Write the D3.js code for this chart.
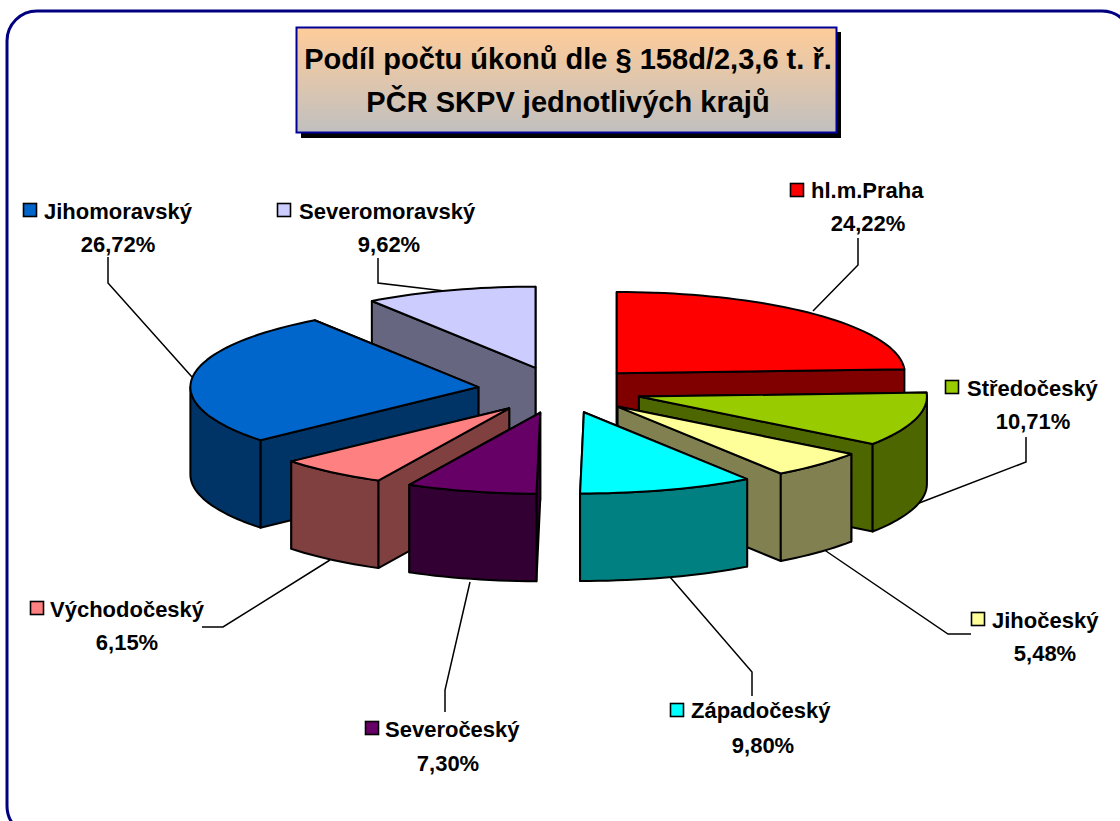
<!DOCTYPE html>
<html><head><meta charset="utf-8">
<style>html,body{margin:0;padding:0;background:#fff;overflow:hidden}
text{font-family:"Liberation Sans",Arial,sans-serif;font-weight:bold;fill:#000}</style>
<script src="https://cdn.jsdelivr.net/npm/d3@7/dist/d3.min.js"></script>
</head><body><svg id="c" width="1120" height="821"></svg>
<script>
const categories = ["hl.m.Praha","Středočeský","Jihočeský","Západočeský","Severočeský","Východočeský","Jihomoravský","Severomoravský"];
const shares = [24.22,10.71,5.48,9.80,7.30,6.15,26.72,9.62];
const topColors = ["#FF0000","#99CC00","#FFFF99","#00FFFF","#660066","#FF8080","#0066CC","#CCCCFF"];
const wallColors = ["#800000","#4D6600","#808050","#008080","#330033","#804040","#003366","#666680"];
const titleLines = ["Podíl počtu úkonů dle § 158d/2,3,6 t. ř.","PČR SKPV jednotlivých krajů"];

// layout, separate from the data
const keyPos = [[790,183],[945,380],[971,612],[670,703],[365,721],[30,601],[23,203],[277,203]];
const namePos = [[811,198],[967,396],[992,628],[691,718],[385,737],[50,617],[44,219],[299,219]];
const pctPos = [[868,231],[1033,429],[1045,661],[763,753],[448,771],[127,650],[118,252],[389,252]];
const leaders = [
 [[813,311],[858,265],[858,238]],
 [[914,505],[1026,462],[1026,437]],
 [[823,549],[948,634],[971,634]],
 [[670,577],[752,672],[752,696]],
 [[470,582],[445,690],[445,712]],
 [[330,560],[223,627],[202,627]],
 [[192,377],[108,283],[108,257]],
 [[445,291],[378,283],[378,258]]
];

const svg = d3.select("#c");
const defs = svg.append("defs");
const grad = defs.append("linearGradient").attr("id","tg").attr("x1",0).attr("y1",0).attr("x2",0).attr("y2",1);
grad.append("stop").attr("offset",0).attr("stop-color","#FFCC99");
grad.append("stop").attr("offset",1).attr("stop-color","#C0C0C0");

svg.append("rect").attr("x",7).attr("y",11).attr("width",1125).attr("height",825).attr("rx",30).attr("ry",30)
  .attr("fill","#fff").attr("stroke","#000080").attr("stroke-width",3);

// title
svg.append("rect").attr("x",301).attr("y",32).attr("width",540).attr("height",106).attr("fill","#000");
svg.append("rect").attr("x",296.5).attr("y",27.5).attr("width",540).attr("height",105)
  .attr("fill","url(#tg)").attr("stroke","#000099").attr("stroke-width",2);
svg.selectAll("text.t").data(titleLines).join("text").attr("class","t")
  .attr("transform",(d,i)=>`translate(568,${[69,112][i]}) scale(0.968,1)`)
  .attr("text-anchor","middle").attr("font-size",30).text(d=>d);

// pie projected on a tilted plane
const R = 288, tilt = 0.282, depth = 87.5, explode = 0.2857;
const sx = d3.scaleLinear().domain([-1,1]).range([560-R,560+R]);
const sy = d3.scaleLinear().domain([-1,1]).range([390+R*tilt,390-R*tilt]);
const arcs = d3.pie().sort(null).value(d=>d)(shares);
const line = d3.line().x(d=>d[0]).y(d=>d[1]);
const geo = arcs.map((a,i)=>{
  const mid=(a.startAngle+a.endAngle)/2, ex=explode*Math.sin(mid), ey=explode*Math.cos(mid);
  const P=(t)=>[sx(ex+Math.sin(t)),sy(ey+Math.cos(t))];
  const apex=[sx(ex),sy(ey)];
  return {i,mid,apex,P,a};
});
const down=p=>[p[0],p[1]+depth];
const sampled=(a,b)=>d3.range(0,1.0001,1/Math.max(2,Math.ceil((b-a)*30))).map(f=>a+(b-a)*f);
const order=geo.slice().sort((p,q)=>Math.cos(q.mid)-Math.cos(p.mid));

function face(g,pts,fill){
  g.append("path").attr("d",line(pts)+"Z").attr("fill",fill)
   .attr("stroke","#000").attr("stroke-width",2).attr("stroke-linejoin","round");
}
// leaders sit behind the pie
leaders.forEach(l=>svg.append("path").attr("d",line(l)).attr("fill","none").attr("stroke","#000").attr("stroke-width",1.5));

order.forEach(s=>{
  const g=svg.append("g").attr("class","slice");
  const {a,apex,P,i}=s;
  const A=P(a.startAngle),B=P(a.endAngle);
  const radial=[[apex,A],[apex,B]].sort((u,v)=>(u[1][1])-(v[1][1]));
  radial.forEach(([u,v])=>face(g,[u,v,down(v),down(u)],wallColors[i]));
  // outer wall: only the front half of the rim shows
  const lo=Math.max(a.startAngle,Math.PI/2),hi=Math.min(a.endAngle,Math.PI*3/2);
  if(hi>lo){
    const rim=sampled(lo,hi).map(P);
    face(g,rim.concat(rim.slice().reverse().map(down)),wallColors[i]);
  }
  face(g,[apex].concat(sampled(a.startAngle,a.endAngle).map(P)),topColors[i]);
});

// labels
categories.forEach((c,i)=>{
  svg.append("rect").attr("x",keyPos[i][0]+.5).attr("y",keyPos[i][1]+.5).attr("width",13).attr("height",13)
    .attr("fill",topColors[i]).attr("stroke","#000").attr("stroke-width",1.6);
  svg.append("text").attr("x",namePos[i][0]).attr("y",namePos[i][1]).attr("font-size",22).text(c);
  svg.append("text").attr("x",pctPos[i][0]).attr("y",pctPos[i][1]).attr("font-size",22).attr("text-anchor","middle")
    .text(d3.format(".2f")(shares[i]).replace(".",",")+"%");
});
</script></body></html>
